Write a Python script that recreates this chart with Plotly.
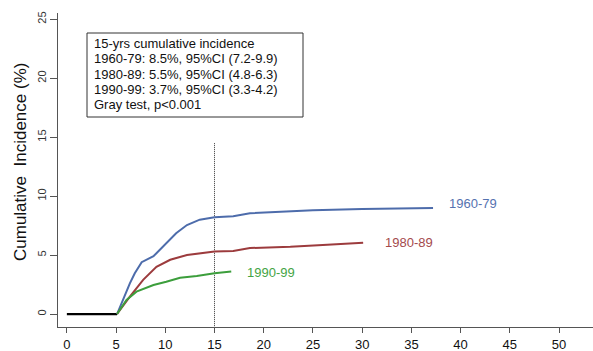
import plotly.graph_objects as go

# ---- data ----
baseline_x = [0, 5.1]
baseline_y = [0.0, 0.0]

blue_x = [5.1, 5.3, 5.8, 6.4, 6.9, 7.6, 8.8, 10.1, 11.1, 12.2, 13.5, 15.0, 16.9, 18.6, 22.7, 25.0, 30.0, 37.2]
blue_y = [0.0, 0.4, 1.5, 2.6, 3.45, 4.4, 4.9, 6.0, 6.85, 7.55, 8.0, 8.2, 8.3, 8.55, 8.7, 8.8, 8.9, 9.0]

red_x = [5.1, 5.6, 6.4, 7.75, 9.1, 10.5, 12.2, 15.0, 16.9, 18.6, 22.7, 26.0, 30.1]
red_y = [0.0, 0.6, 1.47, 2.9, 4.0, 4.6, 5.0, 5.3, 5.35, 5.6, 5.7, 5.85, 6.05]

green_x = [5.1, 5.6, 6.06, 7.07, 8.8, 10.1, 11.5, 13.2, 15.0, 16.7]
green_y = [0.0, 0.6, 1.2, 1.9, 2.46, 2.74, 3.08, 3.22, 3.45, 3.6]

series_names = ["1960-79", "1980-89", "1990-99"]
series_colors = ["#4d6cab", "#9c3b3d", "#3c9e3c"]
label_colors = ["#5572b0", "#a44a4c", "#44a444"]

box_lines = [
    "15-yrs cumulative incidence",
    "1960-79: 8.5%, 95%CI (7.2-9.9)",
    "1980-89: 5.5%, 95%CI (4.8-6.3)",
    "1990-99: 3.7%, 95%CI (3.3-4.2)",
    "Gray test, p<0.001",
]

x_ticks = [0, 5, 10, 15, 20, 25, 30, 35, 40, 45, 50]
y_ticks = [0, 5, 10, 15, 20, 25]
cutoff_year = 15
cutoff_top = 14.5

FONT = "Liberation Sans, Arial, sans-serif"

fig = go.Figure()

fig.add_trace(go.Scatter(x=[cutoff_year, cutoff_year], y=[-1.2, cutoff_top], mode="lines",
                         line=dict(color="#333333", width=1, dash="1px,1px"), hoverinfo="skip"))
fig.add_trace(go.Scatter(x=baseline_x, y=baseline_y, mode="lines",
                         line=dict(color="black", width=2.2)))
for xs, ys, c, n in [(blue_x, blue_y, series_colors[0], series_names[0]),
                     (red_x, red_y, series_colors[1], series_names[1]),
                     (green_x, green_y, series_colors[2], series_names[2])]:
    fig.add_trace(go.Scatter(x=xs, y=ys, mode="lines", name=n,
                             line=dict(color=c, width=2)))

# series labels
label_pos = [(41.3, 9.4), (34.75, 6.1), (20.7, 3.5)]
for (lx, ly), n, c in zip(label_pos, series_names, label_colors):
    fig.add_annotation(x=lx, y=ly, xref="x", yref="y", text=n, showarrow=False,
                       font=dict(family=FONT, size=13, color=c), xanchor="center", yanchor="middle")

# info box
W, H = 593, 351
L, R, T, B = 58, 0, 13, 24
pw, ph = W - L - R, H - T - B
def px2paper(px, py):
    return (px - L) / pw, (H - B - py) / ph

bx0, by0 = px2paper(87, 117)
bx1, by1 = px2paper(303, 33)
fig.add_shape(type="rect", xref="paper", yref="paper", x0=bx0, y0=by0, x1=bx1, y1=by1,
              line=dict(color="#333333", width=1), fillcolor="white", layer="above")
for i, t in enumerate(box_lines):
    ax, ay = px2paper(92, 43.5 + i * 15.3)
    fig.add_annotation(x=ax, y=ay, xref="paper", yref="paper", text=t, showarrow=False,
                       font=dict(family=FONT, size=13, color="#111111"),
                       xanchor="left", yanchor="middle")

# y title
tx, ty = px2paper(20, 162)
fig.add_annotation(x=tx, y=ty, xref="paper", yref="paper",
                   text="Cumulative\u00a0 Incidence (%)", showarrow=False, textangle=-90,
                   font=dict(family=FONT, size=17, color="#111111"),
                   xanchor="center", yanchor="middle")

fig.update_layout(
    width=W, height=H, margin=dict(l=L, r=R, t=T, b=B, pad=0),
    plot_bgcolor="white", paper_bgcolor="white", showlegend=False,
    font=dict(family=FONT),
)
fig.update_xaxes(range=[-0.9, 53.45], tickvals=x_ticks, ticks="outside", ticklen=5,
                 tickcolor="#555555", showline=True, linecolor="#555555", linewidth=1,
                 showgrid=False, zeroline=False, automargin=False,
                 tickfont=dict(family=FONT, size=13, color="#111111"))
fig.update_yaxes(range=[-1.1, 25.53], tickvals=y_ticks, ticks="outside", ticklen=7,
                 tickcolor="#555555", showline=True, linecolor="#555555", linewidth=1,
                 showgrid=False, zeroline=False, automargin=False, tickangle=-90,
                 tickfont=dict(family=FONT, size=11, color="#333333"))

fig.write_html("out.html")
